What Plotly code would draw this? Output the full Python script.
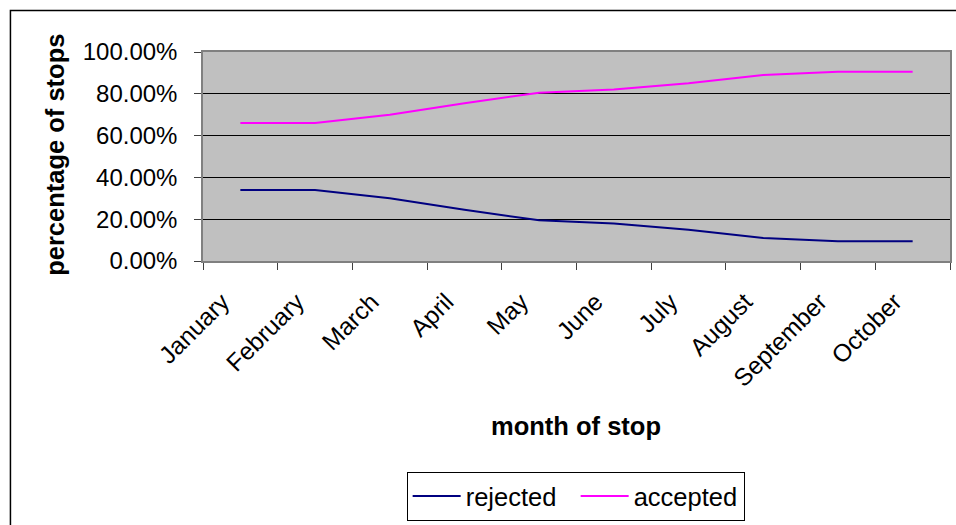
import plotly.graph_objects as go

months = ["January", "February", "March", "April", "May", "June",
          "July", "August", "September", "October"]
rejected = [0.34, 0.34, 0.30, 0.245, 0.195, 0.18, 0.15, 0.11, 0.095, 0.095]
accepted = [0.66, 0.66, 0.70, 0.755, 0.805, 0.82, 0.85, 0.89, 0.905, 0.905]
y_ticks = [0, 0.2, 0.4, 0.6, 0.8, 1.0]

FONT = "Liberation Sans, Arial, sans-serif"
W, H = 956, 525
L, R, T, B = 203, 956 - 951.7, 52, 525 - 264
pw, ph = W - L - R, H - T - B

def px_x(x):
    return (x - L) / pw

def px_y(y):
    return (H - B - y) / ph

fig = go.Figure()
fig.add_trace(go.Scatter(x=months, y=rejected, mode="lines", name="rejected",
                         line=dict(color="#000080", width=2)))
fig.add_trace(go.Scatter(x=months, y=accepted, mode="lines", name="accepted",
                         line=dict(color="#FF00FF", width=2)))

fig.update_layout(
    width=W, height=H, autosize=False,
    margin=dict(l=L, r=R, t=T, b=B, pad=0),
    paper_bgcolor="white", plot_bgcolor="#C0C0C0",
    font=dict(family=FONT, size=24, color="black"),
    showlegend=True,
    legend=dict(orientation="h", x=px_x(576.5), xanchor="center",
                y=px_y(478), yanchor="top",
                bordercolor="black", borderwidth=1, bgcolor="white",
                font=dict(size=25.5), itemwidth=48, tracegroupgap=0,
                entrywidth=105, entrywidthmode="pixels"),
)
fig.update_xaxes(type="category", range=[-0.5, 9.5], tickangle=-45,
                 ticks="outside", ticklen=7, tickcolor="#404040",
                 tickson="boundaries", showgrid=False,
                 showline=True, linecolor="#808080", linewidth=1.5, mirror=True,
                 ticklabelshift=-18, ticklabelstandoff=15,
                 tickfont=dict(size=24.5))
fig.update_yaxes(range=[0, 1], tickvals=y_ticks, tickformat=".2%",
                 ticks="outside", ticklen=7, tickcolor="#404040",
                 showgrid=True, gridcolor="black", gridwidth=1,
                 showline=True, linecolor="#808080", linewidth=1.5, mirror=True,
                 zeroline=False, ticklabelstandoff=12,
                 tickfont=dict(size=24))

fig.add_annotation(text="<b>percentage of stops</b>", xref="paper", yref="paper",
                   x=px_x(54), y=px_y(156), textangle=-90, showarrow=False,
                   xanchor="center", yanchor="middle", font=dict(size=25.5))
fig.add_annotation(text="<b>month of stop</b>", xref="paper", yref="paper",
                   x=px_x(577), y=px_y(431), showarrow=False,
                   xanchor="center", yanchor="middle", font=dict(size=25.5))

fig.add_shape(type="rect", xref="paper", yref="paper",
              x0=px_x(10), x1=px_x(1000), y0=px_y(600), y1=px_y(10),
              line=dict(color="black", width=1.5), fillcolor="rgba(0,0,0,0)",
              layer="below")

fig.write_html("out.html", config={"displayModeBar": False},
               post_script="document.body.style.margin='0';")
